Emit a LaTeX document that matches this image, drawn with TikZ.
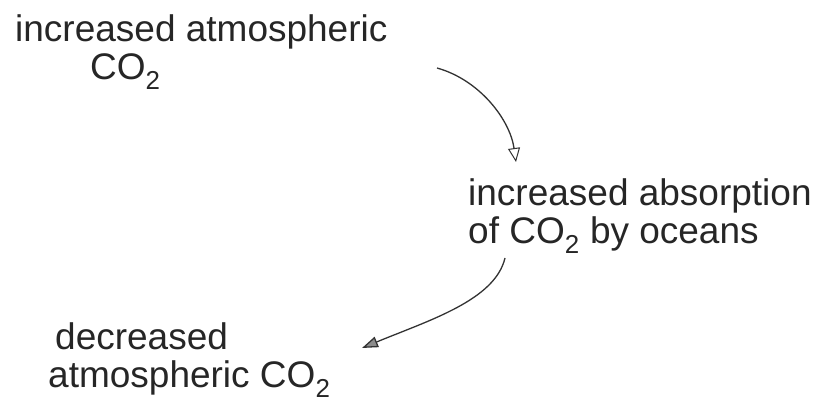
\documentclass[tikz,border=0pt]{standalone}
\usepackage{fontspec}
\setmainfont{Liberation Sans}
\usetikzlibrary{arrows.meta}
\begin{document}
\begin{tikzpicture}[x=1pt,y=-1pt,
  lbl/.style={anchor=base west,inner sep=0pt,align=left,text=black!85,
    font=\fontsize{37}{38}\selectfont},
  conn/.style={draw=black!80,line width=1.3pt},
  openhead/.style={-{Triangle[open,length=14pt,width=12pt,line width=1pt]}},
  fillhead/.style={-{Triangle[length=16pt,width=11pt,fill=black!45]}}]
\useasboundingbox (0,0) rectangle (817,403);
\node[lbl] (inc) at (15,80) {increased atmospheric\\\hspace*{75pt}CO\textsubscript{2}};
\node[lbl] (abs) at (468,244) {increased absorption\\of CO\textsubscript{2} by oceans};
\node[lbl] (dec) at (48,388) {\hspace*{7pt}decreased\\atmospheric CO\textsubscript{2}};
\coordinate (s1) at (437,68);
\coordinate (e1) at (516,162);
\coordinate (s2) at (505,258);
\coordinate (e2) at (362,348);
\draw[conn,openhead] (s1) .. controls (480,80) and (510,120) .. (e1);
\draw[conn,fillhead] (s2) .. controls (495,300) and (430,320) .. (e2);
\end{tikzpicture}
\end{document}
